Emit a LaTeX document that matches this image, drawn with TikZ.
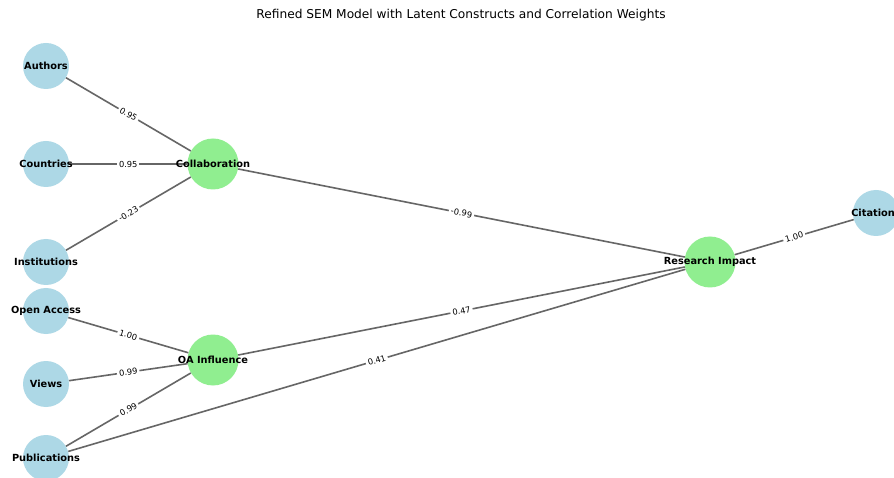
\documentclass[tikz,border=0pt]{standalone}
\usepackage{fontspec}
\setmainfont{DejaVu Sans}
\usepackage{xcolor}
\definecolor{obsblue}{RGB}{173, 216, 230}
\definecolor{latgreen}{RGB}{144, 238, 144}
\definecolor{pathgray}{RGB}{102, 102, 102}

\tikzset{
  observed/.style={circle, fill=obsblue, minimum size=46pt, inner sep=0pt},
  latent/.style={circle, fill=latgreen, minimum size=51pt, inner sep=0pt},
  varname/.style={font=\fontsize{9.8}{11}\selectfont\bfseries, inner sep=0pt},
  loading/.style={draw=pathgray, line width=1.6pt},
  weight/.style={midway, sloped, fill=white, inner sep=2pt, font=\fontsize{8.3}{9}\selectfont}
}

\begin{document}
\begin{tikzpicture}[x=1pt, y=-1pt]
\useasboundingbox[fill=white] (0,0) rectangle (894,478);

\node[font=\fontsize{12.2}{14}\selectfont] (title) at (461,15) {Refined SEM Model with Latent Constructs and Correlation Weights};

% indicators
\node[observed] (authors) at (46,66) {};
\node[observed] (countries) at (46,164) {};
\node[observed] (institutions) at (46,262) {};
\node[observed] (openaccess) at (46,311) {};
\node[observed] (views) at (46,384) {};
\node[observed] (publications) at (46,458) {};
\node[observed] (citations) at (876,213) {};

% latent constructs
\node[latent] (collab) at (213,164) {};
\node[latent] (oainf) at (213,360) {};
\node[latent] (impact) at (710,262) {};

% paths with weights
\draw[loading] (authors) -- node[weight] {0.95} (collab);
\draw[loading] (countries) -- node[weight] {0.95} (collab);
\draw[loading] (institutions) -- node[weight] {-0.23} (collab);
\draw[loading] (openaccess) -- node[weight] {1.00} (oainf);
\draw[loading] (views) -- node[weight] {0.99} (oainf);
\draw[loading] (publications) -- node[weight] {0.99} (oainf);
\draw[loading] (collab) -- node[weight] {-0.99} (impact);
\draw[loading] (oainf) -- node[weight] {0.47} (impact);
\draw[loading] (publications) -- node[weight] {0.41} (impact);
\draw[loading] (impact) -- node[weight] {1.00} (citations);

% names on top
\node[varname] at (authors) {Authors};
\node[varname] at (countries) {Countries};
\node[varname] at (institutions) {Institutions};
\node[varname] at (openaccess) {Open Access};
\node[varname] at (views) {Views};
\node[varname] at (publications) {Publications};
\node[varname] at (citations) {Citations};
\node[varname] at (collab) {Collaboration};
\node[varname] at (oainf) {OA Influence};
\node[varname] at (impact) {Research Impact};
\end{tikzpicture}
\end{document}
